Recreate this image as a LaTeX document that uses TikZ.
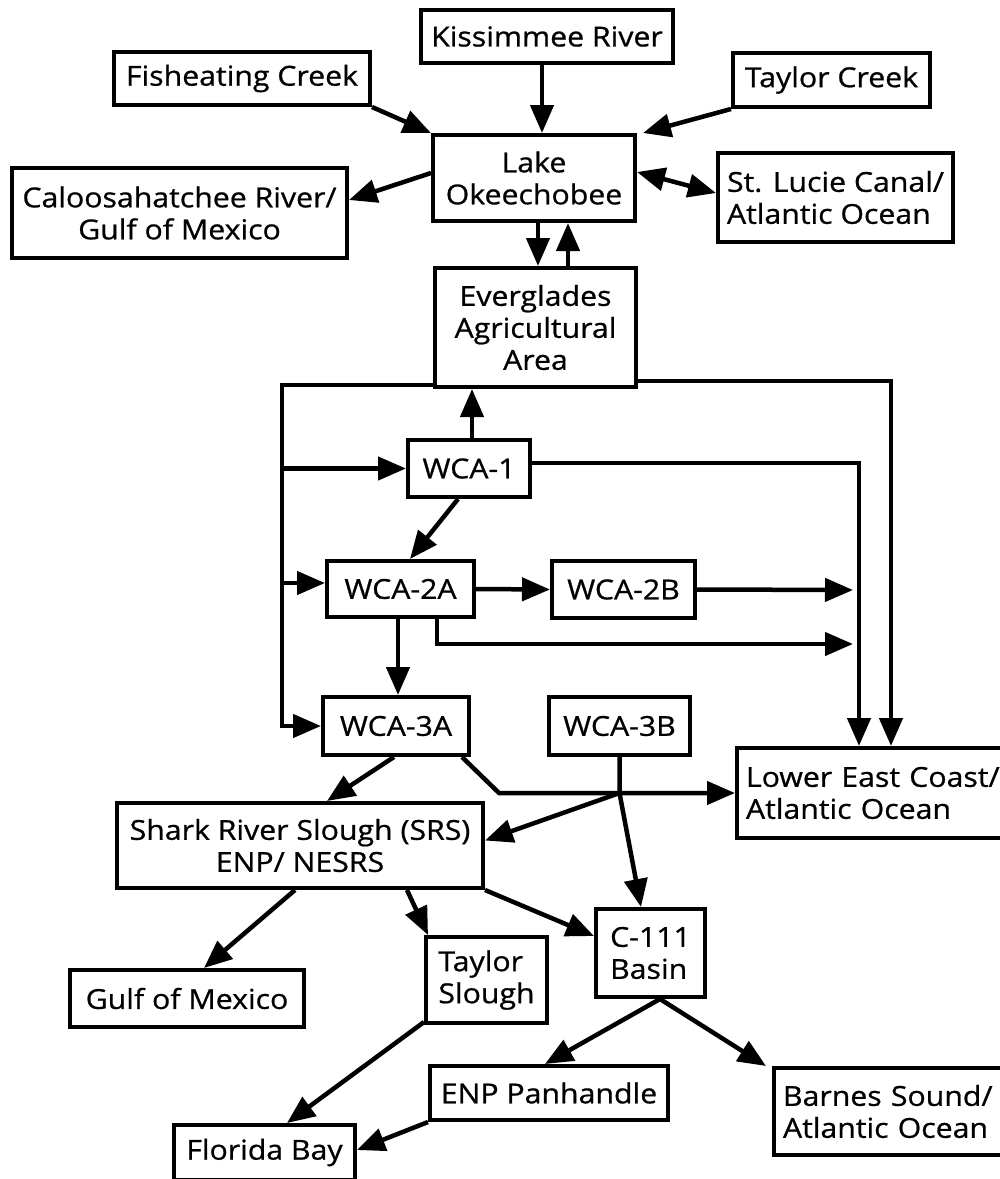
\documentclass[tikz,border=0pt]{standalone}
\usepackage{fontspec}
\setmainfont{Open Sans}[FakeStretch=1.1,FakeBold=0.8]
\usetikzlibrary{arrows.meta}
\begin{document}
\begin{tikzpicture}[x=1pt,y=-1pt,
  box/.style={draw, line width=4pt, inner sep=0pt, align=center, font=\fontsize{27.5}{32}\selectfont},
  lbox/.style={box, align=left},
  flow/.style={line width=4.5pt, -{Triangle[length=28pt,width=23pt]}},
  both/.style={line width=4.5pt, {Triangle[length=28pt,width=23pt]}-{Triangle[length=28pt,width=23pt]}}
  ]
\useasboundingbox (0,0) rectangle (1000,1179);

% nodes
\node[box, minimum width=252pt, minimum height=53pt] (kiss) at (547,36.5) {Kissimmee River};
\node[box, minimum width=256pt, minimum height=53pt] (fish) at (242,78.5) {Fisheating Creek};
\node[box, minimum width=197pt, minimum height=54pt] (tayc) at (831.5,80) {Taylor Creek};
\node[box, minimum width=202pt, minimum height=86pt] (lake) at (534,178) {Lake\\Okeechobee};
\node[box, minimum width=335pt, minimum height=90pt] (caloo) at (179.5,213) {Caloosahatchee River/\\Gulf of Mexico};
\node[lbox, minimum width=235pt, minimum height=89pt] (stl) at (835.5,197.5) {St. Lucie Canal/\\Atlantic Ocean};
\node[box, minimum width=201pt, minimum height=119pt] (eaa) at (535.5,327.5) {Everglades\\Agricultural\\Area};
\node[box, minimum width=122pt, minimum height=57pt] (wca1) at (469,468.5) {WCA-1};
\node[box, minimum width=147pt, minimum height=56pt] (wca2a) at (400.5,589) {WCA-2A};
\node[box, minimum width=143pt, minimum height=57pt] (wca2b) at (623.5,589.5) {WCA-2B};
\node[box, minimum width=146pt, minimum height=58pt] (wca3a) at (396,726) {WCA-3A};
\node[box, minimum width=141pt, minimum height=58pt] (wca3b) at (619.5,726) {WCA-3B};
\node[lbox, anchor=west, text width=262pt, inner xsep=9pt, minimum height=90pt] (lec) at (735,793) {Lower East Coast/\\Atlantic Ocean};
\node[box, minimum width=366pt, minimum height=85pt] (srs) at (300,845.5) {Shark River Slough (SRS)\\ENP/ NESRS};
\node[box, minimum width=234pt, minimum height=57pt] (gulf) at (187,998.5) {Gulf of Mexico};
\node[lbox, minimum width=121pt, minimum height=86pt] (tsl) at (486.5,980) {Taylor\\Slough};
\node[lbox, minimum width=109pt, minimum height=88pt] (c111) at (650.5,953) {C-111\\Basin};
\node[box, minimum width=238pt, minimum height=54pt] (enp) at (549,1093) {ENP Panhandle};
\node[lbox, anchor=west, text width=240pt, inner xsep=9pt, minimum height=87pt] (barnes) at (772,1111.5) {Barnes Sound/\\Atlantic Ocean};
\node[box, minimum width=181pt, minimum height=55pt] (fb) at (264.5,1152.5) {Florida Bay};

% helper coordinates
\coordinate (L) at (282,0);
\coordinate (R1) at (859,0);
\coordinate (R2) at (891,0);
\coordinate (E1) at (853,590);
\coordinate (E2) at (853,644);
\coordinate (K) at (499,793);
\coordinate (J) at (619.5,793);

% connectors
\draw[flow] ([xshift=-5pt]kiss.south) -- ([xshift=8pt]lake.north);
\draw[flow] (fish.south east) -- (lake.north west);
\draw[flow] (tayc.south west) -- ([xshift=6pt]lake.north east);
\draw[flow] ([yshift=5pt]lake.west) -- ([yshift=13pt]caloo.east);
\draw[both] ([yshift=6pt]lake.east) -- ([yshift=4.5pt]stl.west);
\draw[flow] ([xshift=4pt]lake.south) -- ([xshift=2.5pt]eaa.north);
\draw[flow] ([xshift=32.5pt]eaa.north) -- ([xshift=34pt]lake.south);
\draw[flow] ([xshift=3pt]wca1.north) -- ([xshift=-63.5pt]eaa.south);

\draw[flow] ([yshift=4pt]eaa.south west) -| (L |- wca3a.west) -- (wca3a.west);
\draw[flow] (L |- wca1.west) -- (wca1.west);
\draw[flow] (L |- 0,583) -- ([yshift=6pt]wca2a.west);

\draw[flow] ([yshift=8pt]eaa.south east) -| (R2 |- lec.north);
\draw[flow] ([yshift=5.5pt]wca1.east) -| (R1 |- lec.north);

\draw[flow] ([xshift=-11pt]wca1.south) -- ([xshift=9.5pt]wca2a.north);
\draw[flow] (wca2a.east) -- (wca2b.east -| wca2b.west);
\draw[flow] (wca2b.east) -- (E1);
\draw[flow] ([xshift=36.5pt]wca2a.south) |- (E2);
\draw[flow] ([xshift=-2.5pt]wca2a.south) -- ([xshift=2pt]wca3a.north);

\draw[flow] ([xshift=-2pt]wca3a.south) -- ([xshift=27pt]srs.north);
\draw[flow] ([xshift=-9pt]wca3a.south east) -- (K) -- (lec.west);
\draw[flow] (wca3b.south) -- (J) -- ([xshift=-9.5pt]c111.north);
\draw[flow] (J) -- ([yshift=5pt]srs.east);

\draw[flow] ([xshift=-5pt]srs.south) -- ([xshift=17pt]gulf.north);
\draw[flow] ([xshift=107pt]srs.south) -- ([xshift=4pt]tsl.north west);
\draw[flow] (srs.south east) -- ([yshift=-29pt]c111.north west);
\draw[flow] ([yshift=3pt]tsl.south west) -- ([xshift=22.5pt]fb.north);
\draw[flow] (enp.south west) -- ([yshift=2.5pt]fb.east);
\draw[flow] ([xshift=9.5pt]c111.south) -- ([xshift=-4pt]enp.north);
\draw[flow] ([xshift=9.5pt]c111.south) -- ([xshift=-6pt]barnes.north west);
\end{tikzpicture}
\end{document}
